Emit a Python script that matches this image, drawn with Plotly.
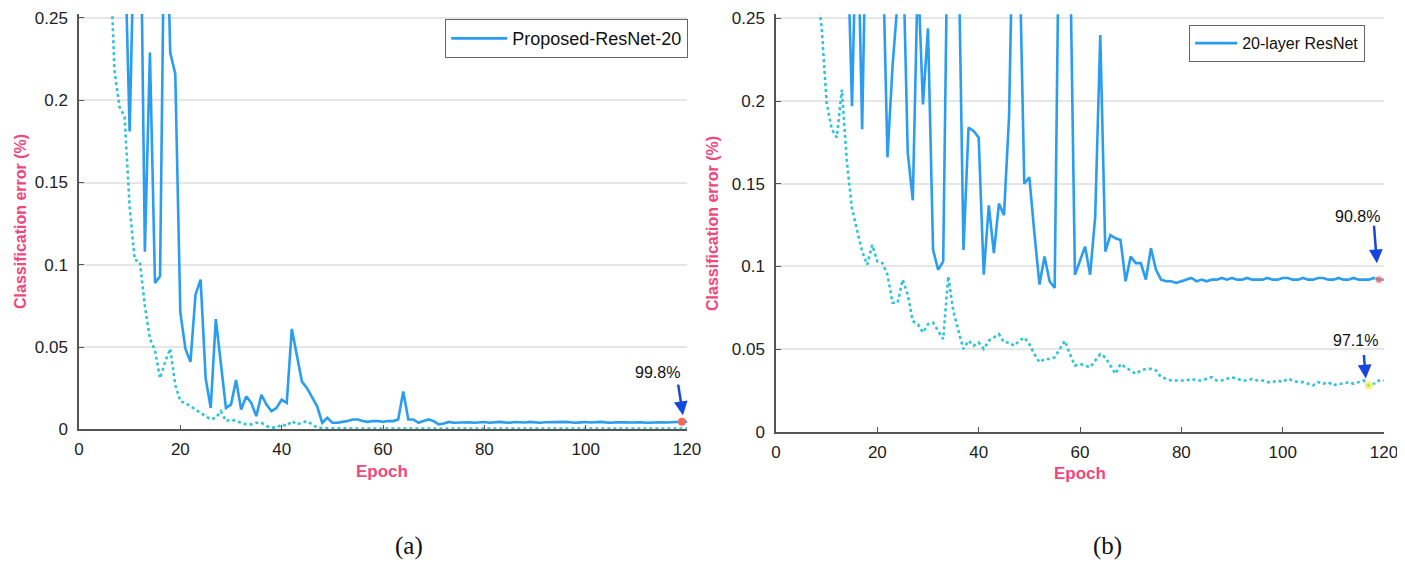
import plotly.graph_objects as go

# ---------------- data ----------------
# (a) Proposed-ResNet-20 : solid = test error, dotted = training error (epochs 1..120)
a_test = [
    0.90, 0.75, 0.62, 0.55, 0.48, 0.42, 0.38, 0.34, 0.30, 0.181,
    0.32, 0.36, 0.108, 0.229, 0.089, 0.093, 0.36, 0.229, 0.216, 0.071,
    0.049, 0.041, 0.082, 0.091, 0.031, 0.013, 0.067, 0.040, 0.013, 0.015,
    0.030, 0.012, 0.020, 0.016, 0.008, 0.021, 0.015, 0.011, 0.013, 0.018,
    0.016, 0.061, 0.045, 0.029, 0.025, 0.019, 0.014, 0.004, 0.007, 0.004,
    0.004, 0.0045, 0.005, 0.006, 0.006, 0.005, 0.0045, 0.005, 0.005, 0.0045,
    0.005, 0.005, 0.006, 0.023, 0.006, 0.006, 0.004, 0.005, 0.006, 0.005,
    0.003, 0.0035, 0.0045, 0.004, 0.0042, 0.0045, 0.0043, 0.004, 0.0042, 0.0044,
    0.004, 0.0043, 0.0045, 0.0042, 0.004, 0.0044, 0.0043, 0.0041, 0.0045, 0.0042,
    0.004, 0.0043, 0.0044, 0.0041, 0.0042, 0.0045, 0.0043, 0.004, 0.0042, 0.0044,
    0.0041, 0.0043, 0.0045, 0.0042, 0.004, 0.0043, 0.0044, 0.0042, 0.0041, 0.0044,
    0.0043, 0.004, 0.0042, 0.0045, 0.0043, 0.0041, 0.0044, 0.0045, 0.0046, 0.0046,
]
a_train = [
    0.90, 0.70, 0.55, 0.45, 0.37, 0.30, 0.218, 0.196, 0.190, 0.135,
    0.103, 0.102, 0.075, 0.055, 0.048, 0.031, 0.041, 0.049, 0.027, 0.017,
    0.016, 0.014, 0.012, 0.010, 0.008, 0.006, 0.007, 0.011, 0.005, 0.006,
    0.005, 0.004, 0.003, 0.003, 0.004, 0.004, 0.002, 0.001, 0.001, 0.003,
    0.002, 0.005, 0.003, 0.004, 0.005, 0.003, 0.001, 0.0008, 0.0006, 0.0005,
    0.0005, 0.0006, 0.0005, 0.0004, 0.0005, 0.0005, 0.0004, 0.0005, 0.0004, 0.0005,
    0.0005, 0.0004, 0.0005, 0.0006, 0.0005, 0.0004, 0.0005, 0.0005, 0.0004, 0.0005,
    0.0005, 0.0004, 0.0005, 0.0004, 0.0005, 0.0005, 0.0004, 0.0005, 0.0005, 0.0004,
    0.0005, 0.0004, 0.0005, 0.0005, 0.0004, 0.0005, 0.0005, 0.0004, 0.0005, 0.0004,
    0.0005, 0.0005, 0.0004, 0.0005, 0.0005, 0.0004, 0.0005, 0.0004, 0.0005, 0.0005,
    0.0004, 0.0005, 0.0005, 0.0004, 0.0005, 0.0004, 0.0005, 0.0005, 0.0004, 0.0005,
    0.0005, 0.0004, 0.0005, 0.0004, 0.0005, 0.0005, 0.0004, 0.0005, 0.0005, 0.0005,
]
# (b) 20-layer ResNet
b_test = [
    0.90, 0.80, 0.70, 0.62, 0.56, 0.50, 0.46, 0.42, 0.40, 0.38,
    0.36, 0.34, 0.33, 0.31, 0.197, 0.33, 0.183, 0.35, 0.33, 0.31,
    0.30, 0.166, 0.221, 0.26, 0.30, 0.169, 0.140, 0.28, 0.198, 0.244,
    0.110, 0.098, 0.103, 0.34, 0.32, 0.30, 0.110, 0.184, 0.182, 0.178,
    0.095, 0.137, 0.108, 0.138, 0.131, 0.191, 0.35, 0.30, 0.150, 0.154,
    0.120, 0.089, 0.106, 0.091, 0.087, 0.35, 0.38, 0.30, 0.095, 0.103,
    0.112, 0.095, 0.130, 0.240, 0.109, 0.119, 0.117, 0.116, 0.091, 0.106,
    0.102, 0.102, 0.092, 0.111, 0.098, 0.092, 0.091, 0.091, 0.090, 0.091,
    0.092, 0.093, 0.091, 0.092, 0.091, 0.092, 0.092, 0.093, 0.092, 0.093,
    0.092, 0.092, 0.093, 0.092, 0.092, 0.092, 0.093, 0.092, 0.092, 0.093,
    0.093, 0.092, 0.092, 0.093, 0.092, 0.092, 0.093, 0.093, 0.092, 0.092,
    0.093, 0.092, 0.092, 0.093, 0.092, 0.092, 0.092, 0.093, 0.092, 0.092,
]
b_train = [
    0.90, 0.75, 0.60, 0.50, 0.42, 0.36, 0.31, 0.27, 0.245, 0.199,
    0.183, 0.178, 0.207, 0.163, 0.135, 0.122, 0.109, 0.101, 0.113, 0.103,
    0.102, 0.095, 0.078, 0.078, 0.092, 0.083, 0.067, 0.065, 0.060, 0.065,
    0.066, 0.061, 0.056, 0.094, 0.073, 0.061, 0.050, 0.055, 0.052, 0.054,
    0.050, 0.055, 0.057, 0.059, 0.054, 0.054, 0.052, 0.055, 0.057, 0.053,
    0.047, 0.042, 0.044, 0.044, 0.045, 0.050, 0.055, 0.047, 0.040, 0.041,
    0.040, 0.039, 0.043, 0.047, 0.045, 0.040, 0.035, 0.041, 0.039, 0.037,
    0.035, 0.037, 0.038, 0.038, 0.037, 0.033, 0.032, 0.031, 0.031, 0.031,
    0.031, 0.032, 0.031, 0.031, 0.032, 0.033, 0.031, 0.031, 0.032, 0.033,
    0.032, 0.031, 0.031, 0.032, 0.031, 0.031, 0.030, 0.030, 0.031, 0.030,
    0.032, 0.031, 0.030, 0.030, 0.029, 0.028, 0.030, 0.029, 0.030, 0.028,
    0.029, 0.029, 0.030, 0.029, 0.030, 0.031, 0.028, 0.029, 0.031, 0.031,
]
epochs = list(range(1, 121))

# highlighted final points and their labels
a_mark_epoch, a_mark_val = [119], [0.0046]
b_mark_epoch, b_mark_val = [119, 117], [0.092, 0.028]
a_label = "99.8%"
b_labels = ["90.8%", "97.1%"]
x_ticks = [0, 20, 40, 60, 80, 100, 120]
y_ticks = [0, 0.05, 0.1, 0.15, 0.2, 0.25]

# ---------------- styles ----------------
BLUE = "#2b9df0"
CYAN = "#2fc4d8"
PINK = "#f0487c"
ARROW = "#1547df"
FONT = "Liberation Sans, Arial, sans-serif"
OFF = 8                      # page body margin of the browser
W, H = 1405 - OFF, 565 - OFF
YMAX = 0.2525


def fx(px):  # screen pixel -> paper x
    return (px - OFF) / W


def fy(py):  # screen pixel -> paper y
    return 1 - (py - OFF) / H


fig = go.Figure()
fig.add_trace(go.Scatter(x=epochs, y=a_train, mode="lines", line=dict(color=CYAN, width=2.6, dash="dot"),
                         showlegend=False, xaxis="x", yaxis="y"))
fig.add_trace(go.Scatter(x=epochs, y=a_test, mode="lines", line=dict(color=BLUE, width=2.6),
                         name="Proposed-ResNet-20", legend="legend", xaxis="x", yaxis="y"))
fig.add_trace(go.Scatter(x=a_mark_epoch, y=a_mark_val, mode="markers",
                         marker=dict(color="#f46a5a", size=8), showlegend=False, xaxis="x", yaxis="y"))

fig.add_trace(go.Scatter(x=epochs, y=b_train, mode="lines", line=dict(color=CYAN, width=2.6, dash="dot"),
                         showlegend=False, xaxis="x2", yaxis="y2"))
fig.add_trace(go.Scatter(x=epochs, y=b_test, mode="lines", line=dict(color=BLUE, width=2.6),
                         name="20-layer ResNet", legend="legend2", xaxis="x2", yaxis="y2"))
fig.add_trace(go.Scatter(x=b_mark_epoch, y=b_mark_val, mode="markers",
                         marker=dict(color=["#f46a5a", "#f4ee3a"], size=[8, 9]), showlegend=False,
                         xaxis="x2", yaxis="y2"))


def xax(domain, anchor):
    return dict(domain=domain, anchor=anchor, range=[0, 120], tickvals=x_ticks, showgrid=False,
                zeroline=False, showline=True, linecolor="#555", linewidth=1.5, ticks="inside",
                ticklen=5, tickcolor="#555", tickfont=dict(family=FONT, size=17, color="#222"),
                ticklabelstandoff=4, automargin=False, ticklabeloverflow="allow")


def yax(domain, anchor):
    return dict(domain=domain, anchor=anchor, range=[0, YMAX], tickvals=y_ticks, showgrid=True,
                gridcolor="#e6e6e6", gridwidth=1.5, zeroline=False, showline=True, linecolor="#555",
                linewidth=1.5, ticks="inside", ticklen=5, tickcolor="#555",
                tickfont=dict(family=FONT, size=17, color="#222"), ticklabelstandoff=6, automargin=False,
                ticklabeloverflow="allow")


# pixel rows of y=0 and y=0.25 in each panel (top kept low enough for the "0.25" label to fit)
a_y0, a_y25 = 429.3, 18.0
b_y0, b_y25 = 431.7, 18.5
a_top = a_y0 - (a_y0 - a_y25) * YMAX / 0.25
b_top = b_y0 - (b_y0 - b_y25) * YMAX / 0.25

fig.update_layout(
    width=W, height=H, margin=dict(l=0, r=0, t=0, b=0, autoexpand=False),
    paper_bgcolor="white", plot_bgcolor="white",
    xaxis=xax([fx(79), fx(687)], "y"),
    yaxis=yax([fy(a_y0), fy(a_top)], "x"),
    xaxis2=xax([fx(776), fx(1384)], "y2"),
    yaxis2=yax([fy(b_y0), fy(b_top)], "x2"),
    legend=dict(x=fx(688), y=fy(19), xanchor="right", yanchor="top", bgcolor="white", itemwidth=56,
                bordercolor="#666", borderwidth=1.2, font=dict(family=FONT, size=18, color="#111")),
    legend2=dict(x=fx(1365), y=fy(25), xanchor="right", yanchor="top", bgcolor="white", itemwidth=42,
                 bordercolor="#666", borderwidth=1.2, font=dict(family=FONT, size=16, color="#111")),
)

ann = []
# axis titles
for xc, yc in [(20, 222), (713, 224)]:
    ann.append(dict(text="<b>Classification error (%)</b>", x=fx(xc), y=fy(yc), xref="paper", yref="paper",
                    xanchor="center", yanchor="middle", textangle=-90, showarrow=False,
                    font=dict(family=FONT, size=16, color=PINK)))
for xc, yc in [(382, 471), (1080, 473)]:
    ann.append(dict(text="<b>Epoch</b>", x=fx(xc), y=fy(yc), xref="paper", yref="paper",
                    xanchor="center", yanchor="middle", showarrow=False,
                    font=dict(family=FONT, size=17, color=PINK)))
# captions
for txt, xc in [("(a)", 409), ("(b)", 1107)]:
    ann.append(dict(text=txt, x=fx(xc), y=fy(546), xref="paper", yref="paper", showarrow=False,
                    xanchor="center", yanchor="middle",
                    font=dict(family="Liberation Serif, Times New Roman, serif", size=25, color="#111")))
# value labels
ann.append(dict(text=a_label, x=114.1, y=0.0346, xref="x", yref="y", showarrow=False,
                font=dict(family=FONT, size=16, color="#111")))
ann.append(dict(text=b_labels[0], x=114.7, y=0.130, xref="x2", yref="y2", showarrow=False,
                font=dict(family=FONT, size=16, color="#111")))
ann.append(dict(text=b_labels[1], x=114.3, y=0.055, xref="x2", yref="y2", showarrow=False,
                font=dict(family=FONT, size=16, color="#111")))
# arrows
for xr, yr, x, y, ax, ay in [("x", "y", 119.2, 0.0086, -5, -32),
                             ("x2", "y2", 118.6, 0.1019, -3, -39),
                             ("x2", "y2", 116.4, 0.0322, -2, -25)]:
    ann.append(dict(text="", x=x, y=y, xref=xr, yref=yr, ax=ax, ay=ay, showarrow=True,
                    arrowhead=2, arrowsize=1.1, arrowwidth=2.5, arrowcolor=ARROW, standoff=0))
fig.update_layout(annotations=ann)

fig.write_html("out.html")
